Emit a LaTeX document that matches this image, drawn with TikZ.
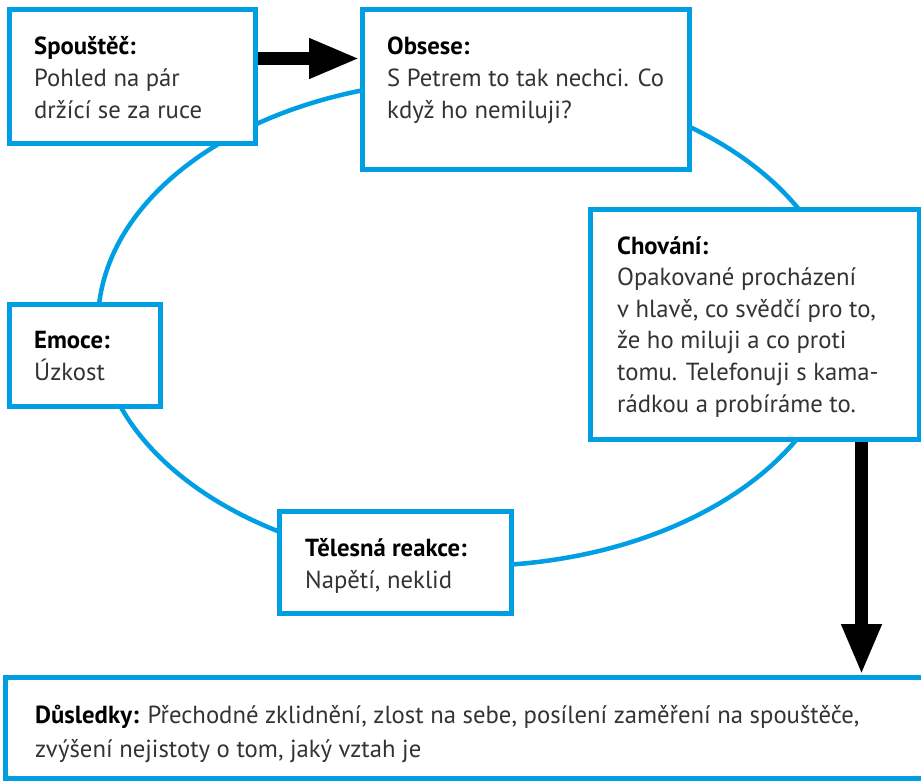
\documentclass[tikz,border=0pt]{standalone}
\usepackage{fontspec}
\setmainfont{PT Sans}
\usetikzlibrary{arrows.meta}

\definecolor{cyclecyan}{HTML}{009FE3}
\definecolor{bodygray}{HTML}{333333}
\newcommand\stagehead[1]{\textcolor{black}{\bfseries #1}}

\tikzset{
  stagebox/.style={draw=cyclecyan, line width=5pt, fill=white, inner sep=0pt},
  % base of a multi-line node is the baseline of its last line
  stagetext/.style={anchor=base west, align=left, inner sep=0pt, text=bodygray,
    font=\fontsize{24.7}{31.6}\selectfont},
  fatarrow/.style={line width=13pt, -{Triangle[width=37pt,length=51pt]}},
}

\begin{document}
\begin{tikzpicture}[x=1pt,y=-1pt]
\useasboundingbox (0,0) rectangle (921,780);

% the cycle behind the boxes
\draw[cyclecyan, line width=4.5pt] (470,323) ellipse [x radius=372, y radius=243];

\node[stagebox, minimum width=246, minimum height=133.5] (spoustec) at (132.5,76.25) {};
\node[stagebox, minimum width=326.5, minimum height=160] (obsese) at (525.75,89.5) {};
\node[stagebox, minimum width=328.5, minimum height=230] (chovani) at (754.75,324) {};
\node[stagebox, minimum width=151, minimum height=102.5] (emoce) at (85,355.25) {};
\node[stagebox, minimum width=232.5, minimum height=101.5] (telesna) at (395.25,562.25) {};
\node[stagebox, minimum width=924.5, minimum height=100.5] (dusledky) at (467.75,727.75) {};

% arrows
\coordinate (rightstart) at ([yshift=17.75pt]spoustec.east);
\draw[fatarrow] (rightstart) -- (rightstart -| obsese.west);
\coordinate (downstart) at ([xshift=106.75pt]chovani.south);
\draw[fatarrow] (downstart) -- (downstart |- dusledky.north);

% texts
\node[stagetext] (spoustec-txt) at (34,118) {\stagehead{Spouštěč:}\\Pohled na pár\\držící se za ruce};
\node[stagetext] (obsese-txt) at (387,118) {\stagehead{Obsese:}\\S Petrem to tak nechci. Co\\když ho nemiluji?};
\node[stagetext] (chovani-txt) at (617,412) {\stagehead{Chování:}\\Opakované procházení\\v hlavě, co svědčí pro to,\\že ho miluji a co proti\\tomu. Telefonuji s kama-\\rádkou a probíráme to.};
\node[stagetext] (emoce-txt) at (34,380) {\stagehead{Emoce:}\\Úzkost};
\node[stagetext] (telesna-txt) at (305,588) {\stagehead{Tělesná reakce:}\\Napětí, neklid};
\node[stagetext, font=\fontsize{24.7}{34}\selectfont] (dusledky-txt) at (35,757)
  {\stagehead{Důsledky:} Přechodné zklidnění, zlost na sebe, posílení zaměření na spouštěče,\\zvýšení nejistoty o tom, jaký vztah je};

\end{tikzpicture}
\end{document}
